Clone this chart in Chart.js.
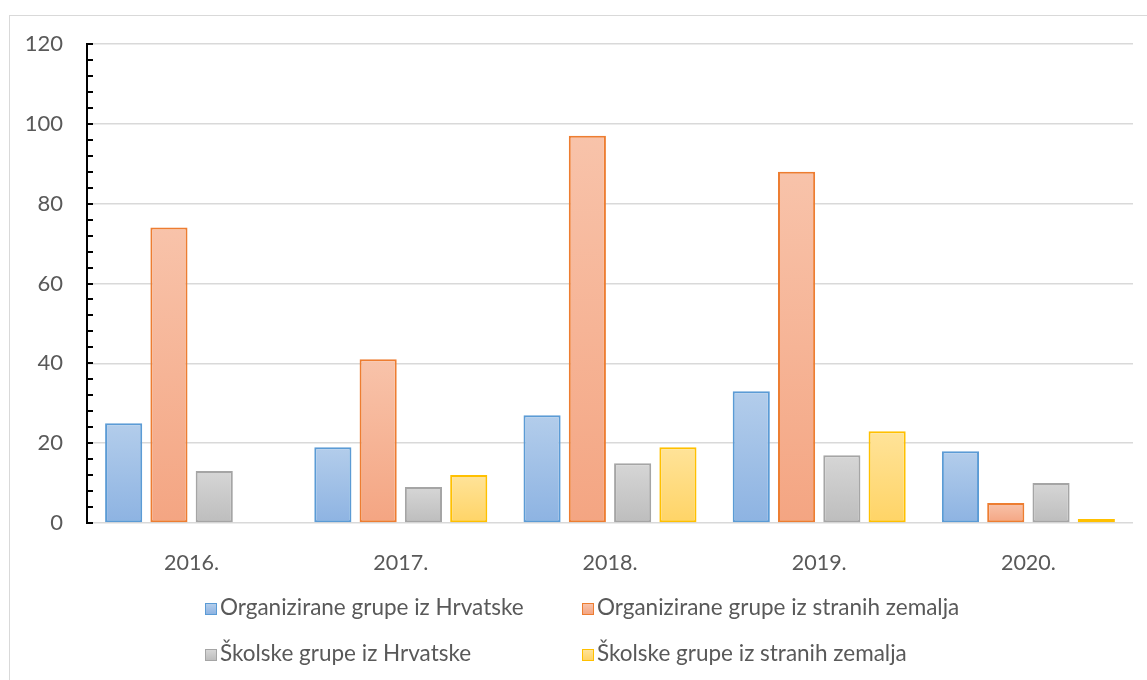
<!DOCTYPE html>
<html>
<head>
<meta charset="utf-8">
<script src="https://cdn.jsdelivr.net/npm/chart.js@4/dist/chart.umd.min.js"></script>
<style>
  body { margin: 0; background: #fff; }
  #wrap { position: relative; width: 1147px; height: 680px; overflow: hidden; }
  #frame { position: absolute; left: 9px; top: 15px; width: 1160px; height: 700px; border: 1px solid #d9d9d9; box-sizing: border-box; }
  canvas { position: absolute; left: 0; top: 0; }
  #legend { position: absolute; left: 0; top: 0; font-family: Lato, sans-serif; font-size: 22.5px; color: #595959; }
  .item { position: absolute; white-space: nowrap; line-height: 26px; }
  .box { display: inline-block; width: 10px; height: 10px; border-width: 1.5px; border-style: solid; margin-right: 3px; vertical-align: 0px; }
</style>
</head>
<body>
<div id="wrap">
  <div id="frame"></div>
  <canvas id="chart" width="1147" height="680"></canvas>
  <div id="legend"></div>
</div>
<script>
// data
var years = ['2016.', '2017.', '2018.', '2019.', '2020.'];
var orgHr = [25, 19, 27, 33, 18];
var orgForeign = [74, 41, 97, 88, 5];
var schoolHr = [13, 9, 15, 17, 10];
var schoolForeign = [null, 12, 19, 23, 1];

var seriesNames = [
    'Organizirane grupe iz Hrvatske',
    'Organizirane grupe iz stranih zemalja',
    'Školske grupe iz Hrvatske',
    'Školske grupe iz stranih zemalja'
];

var palette = [
    { top: '#b3cdeb', bottom: '#8db3e2', border: '#5b9bd5' },
    { top: '#f8c3aa', bottom: '#f4a582', border: '#ed7d31' },
    { top: '#d6d6d6', bottom: '#bdbdbd', border: '#a5a5a5' },
    { top: '#ffe399', bottom: '#ffd466', border: '#ffc000' }
];

var textColor = '#595959';
var font = 'Lato, sans-serif';

// each bar gets its own top-to-bottom gradient
function barGradient(col) {
    return function (ctx) {
        var chart = ctx.chart;
        var ys = chart.scales.y;
        if (ctx.type !== 'data' || ctx.raw == null || !ys) return col.bottom;
        var yTop = ys.getPixelForValue(ctx.raw);
        var yBase = ys.getPixelForValue(0);
        if (!isFinite(yTop) || !isFinite(yBase) || yTop === yBase) return col.bottom;
        var g = chart.ctx.createLinearGradient(0, yTop, 0, yBase);
        g.addColorStop(0, col.top);
        g.addColorStop(1, col.bottom);
        return g;
    };
}

var values = [orgHr, orgForeign, schoolHr, schoolForeign];
var datasets = values.map(function (v, i) {
    return {
        label: seriesNames[i],
        data: v,
        backgroundColor: barGradient(palette[i]),
        borderColor: palette[i].border,
        borderWidth: 2,
        borderSkipped: false,
        categoryPercentage: 0.866,
        barPercentage: 0.82
    };
});

// short inside tick marks on the value axis, every 4 units
var minorTicks = {
    id: 'minorTicks',
    afterDraw: function (chart) {
        var ys = chart.scales.y;
        var c = chart.ctx;
        var x = chart.chartArea.left;
        c.save();
        c.strokeStyle = '#000';
        c.lineWidth = 2;
        for (var v = 0; v <= 120; v += 4) {
            var y = Math.round(ys.getPixelForValue(v));
            c.beginPath();
            c.moveTo(x - 1, y);
            c.lineTo(x + 6, y);
            c.stroke();
        }
        c.beginPath();
        c.moveTo(x, chart.chartArea.top - 1);
        c.lineTo(x, chart.chartArea.bottom + 1);
        c.stroke();
        c.restore();
    }
};

var chart = new Chart(document.getElementById('chart'), {
    type: 'bar',
    data: { labels: years, datasets: datasets },
    options: {
        responsive: false,
        animation: false,
        layout: { padding: { top: 44, right: 14, left: 0, bottom: 0 } },
        plugins: {
            legend: { display: false },
            tooltip: { enabled: false }
        },
        scales: {
            x: {
                grid: { display: false },
                border: { display: false },
                ticks: { color: textColor, font: { family: font, size: 21.5 }, padding: 19 },
                afterFit: function (s) { s.height = 157; }
            },
            y: {
                min: 0,
                max: 120,
                ticks: { stepSize: 20, color: textColor, font: { family: font, size: 22 }, padding: 24 },
                grid: { color: '#d9d9d9', lineWidth: 1.5, drawTicks: false },
                border: { display: false },
                afterFit: function (s) { s.width = 87; }
            }
        }
    },
    plugins: [minorTicks]
});

// legend in two rows, two columns
var legendPos = [
    { left: 205, top: 594 },
    { left: 582, top: 594 },
    { left: 205, top: 640 },
    { left: 582, top: 640 }
];
var legendEl = document.getElementById('legend');
seriesNames.forEach(function (name, i) {
    var item = document.createElement('div');
    item.className = 'item';
    item.style.left = legendPos[i].left + 'px';
    item.style.top = legendPos[i].top + 'px';
    var box = document.createElement('span');
    box.className = 'box';
    box.style.borderColor = palette[i].border;
    box.style.background = 'linear-gradient(' + palette[i].top + ',' + palette[i].bottom + ')';
    item.appendChild(box);
    item.appendChild(document.createTextNode(name));
    legendEl.appendChild(item);
});
</script>
</body>
</html>
